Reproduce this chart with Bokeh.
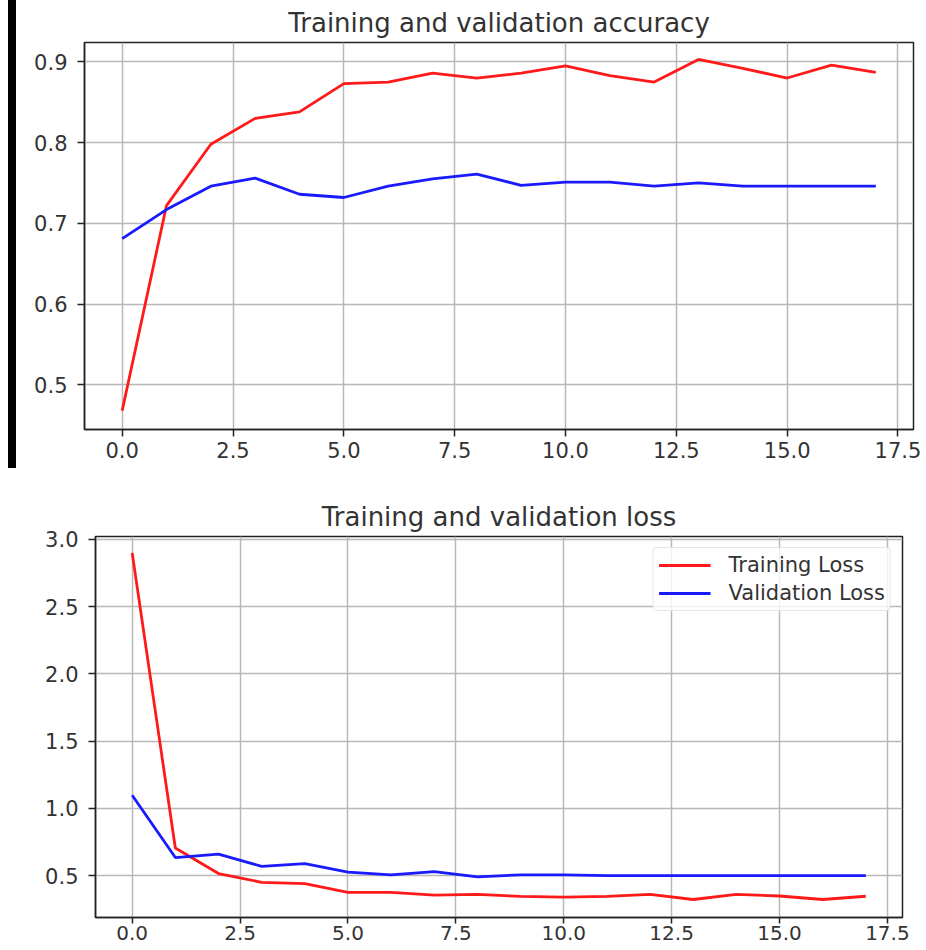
from bokeh.plotting import figure
from bokeh.layouts import column, row
from bokeh.models import Div, FixedTicker, Range1d, Legend, LegendItem
from bokeh.embed import file_html
from bokeh.resources import INLINE

epochs = list(range(18))
train_acc = [0.468, 0.722, 0.798, 0.830, 0.838, 0.873, 0.875, 0.886, 0.880, 0.886,
             0.895, 0.883, 0.875, 0.903, 0.892, 0.880, 0.896, 0.887]
val_acc = [0.681, 0.717, 0.746, 0.756, 0.736, 0.732, 0.746, 0.755, 0.761, 0.747,
           0.751, 0.751, 0.746, 0.750, 0.746, 0.746, 0.746, 0.746]
train_loss = [2.90, 0.705, 0.515, 0.450, 0.440, 0.375, 0.375, 0.355, 0.360, 0.345,
              0.340, 0.345, 0.360, 0.322, 0.360, 0.348, 0.322, 0.346]
val_loss = [1.097, 0.634, 0.660, 0.569, 0.589, 0.525, 0.505, 0.530, 0.490, 0.505,
            0.505, 0.500, 0.500, 0.500, 0.500, 0.500, 0.500, 0.500]

x_ticks = [0, 2.5, 5, 7.5, 10, 12.5, 15, 17.5]
x_tick_labels = ["0.0", "2.5", "5.0", "7.5", "10.0", "12.5", "15.0", "17.5"]
acc_ticks = [0.5, 0.6, 0.7, 0.8, 0.9]
acc_tick_labels = ["0.5", "0.6", "0.7", "0.8", "0.9"]
loss_ticks = [0.5, 1.0, 1.5, 2.0, 2.5, 3.0]
loss_tick_labels = ["0.5", "1.0", "1.5", "2.0", "2.5", "3.0"]

FONT = "DejaVu Sans"
TXT = "#333333"
RED = "#ff1a1a"
BLUE = "#1a1aff"


def style(p, yt, ytl):
    p.title.text_font = FONT
    p.title.text_font_size = "26px"
    p.title.text_font_style = "normal"
    p.title.text_color = TXT
    p.title.align = "center"
    p.outline_line_color = "#222222"
    p.outline_line_width = 1.5
    p.xaxis.ticker = FixedTicker(ticks=x_ticks)
    p.xaxis.major_label_overrides = {t: l for t, l in zip(x_ticks, x_tick_labels)}
    p.yaxis.ticker = FixedTicker(ticks=yt)
    p.yaxis.major_label_overrides = {t: l for t, l in zip(yt, ytl)}
    for ax in (p.xaxis, p.yaxis):
        ax.axis_line_color = "#222222"
        ax.axis_line_width = 1.5
        ax.major_tick_line_color = "#222222"
        ax.major_tick_line_width = 1.5
        ax.major_tick_in = 0
        ax.major_tick_out = 7
        ax.minor_tick_line_color = None
        ax.major_label_text_font = FONT
        ax.major_label_text_font_size = "21px"
        ax.major_label_text_color = TXT
    p.xaxis.major_label_standoff = 5
    p.yaxis.major_label_standoff = 10
    p.grid.grid_line_color = "#b8b8b8"
    p.grid.grid_line_width = 1.5
    p.background_fill_color = "white"
    p.border_fill_color = "white"


p1 = figure(title="Training and validation accuracy", output_backend="svg", toolbar_location=None,
            frame_width=829, frame_height=387, min_border_left=68, min_border_right=13,
            min_border_top=40, min_border_bottom=43,
            x_range=Range1d(-0.85, 17.85), y_range=Range1d(0.4446, 0.924))
style(p1, acc_ticks, acc_tick_labels)
p1.line(epochs, train_acc, line_color=RED, line_width=2.8)
p1.line(epochs, val_acc, line_color=BLUE, line_width=2.8)

p2 = figure(title="Training and validation loss", output_backend="svg", toolbar_location=None,
            frame_width=807, frame_height=381, min_border_left=95, min_border_right=24,
            min_border_top=64, min_border_bottom=31,
            x_range=Range1d(-0.85, 17.85), y_range=Range1d(0.188, 3.022))
style(p2, loss_ticks, loss_tick_labels)
p2.xaxis.major_label_standoff = 2
p2.xaxis.major_tick_out = 6
p2.xaxis.major_label_text_font_size = "20px"
r1 = p2.line(epochs, train_loss, line_color=RED, line_width=2.8)
r2 = p2.line(epochs, val_loss, line_color=BLUE, line_width=2.8)
legend = Legend(items=[LegendItem(label="Training Loss", renderers=[r1]),
                       LegendItem(label="Validation Loss", renderers=[r2])],
                location="top_right")
legend.margin = 11
legend.padding = 5
legend.spacing = 4
legend.glyph_width = 52
legend.glyph_height = 22
legend.label_height = 22
legend.label_standoff = 18
legend.label_text_font = FONT
legend.label_text_font_size = "21px"
legend.label_text_color = TXT
legend.border_line_color = "#cccccc"
legend.border_line_width = 1.2
legend.border_radius = 4
legend.background_fill_alpha = 0.8
p2.add_layout(legend)

bar = Div(width=8, height=468, margin=0, styles={"background-color": "black"})
spacer = Div(width=8, height=468, margin=0)
top = row(spacer, bar, p1, spacing=0, margin=0)
layout = column(top, p2, spacing=0, margin=0)

open("out.html", "w").write(file_html(layout, INLINE))
